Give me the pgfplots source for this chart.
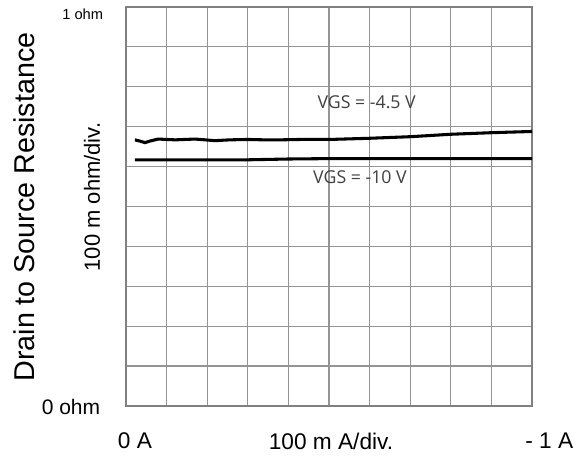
\documentclass[border=0pt]{standalone}
\usepackage{fontspec}
\setmainfont{Liberation Sans}
\newfontfamily\segoe{Open Sans}
\usepackage{pgfplots}
\pgfplotsset{compat=1.18}
\definecolor{gridgray}{HTML}{949494}
\definecolor{framegray}{HTML}{808080}
\definecolor{lbl}{HTML}{404040}

\begin{document}
\begin{tikzpicture}
\useasboundingbox (-94.5pt,-39.75pt) rectangle (342.75pt,304.5pt);
\begin{axis}[
  scale only axis, width=304.5pt, height=299.25pt,
  xmin=0, xmax=1, ymin=0, ymax=1,
  xtick={0,0.1,0.2,0.3,0.4,0.5,0.6,0.7,0.8,0.9,1},
  ytick={0,0.1,0.2,0.3,0.4,0.5,0.6,0.7,0.8,0.9,1},
  xticklabels={}, yticklabels={},
  major tick length=0pt,
  grid=major, grid style={draw=gridgray, line width=0.9pt},
  axis line style={draw=framegray, line width=2pt},
  clip=false]
% VGS = -4.5 V
\addplot[black, line width=2.3pt] coordinates {
(0.022,0.667)(0.034,0.664)(0.047,0.660)(0.059,0.664)(0.079,0.669)
(0.101,0.668)(0.121,0.667)(0.145,0.668)(0.170,0.669)(0.195,0.667)
(0.219,0.665)(0.256,0.667)(0.300,0.668)(0.342,0.667)(0.379,0.667)
(0.429,0.668)(0.502,0.668)(0.601,0.671)(0.702,0.675)(0.800,0.681)
(0.901,0.685)(1.000,0.688)};
% VGS = -10 V
\addplot[black, line width=2.3pt] coordinates {
(0.022,0.617)(0.150,0.617)(0.300,0.617)(0.400,0.619)(0.500,0.620)
(0.700,0.620)(1.000,0.620)};
\end{axis}
\node[font=\fontsize{21.5}{24}\selectfont, rotate=90] at (-76.5pt,149.25pt) {Drain to Source Resistance};
\node[font=\fontsize{16.5}{19}\selectfont, rotate=90] at (-25.5pt,156.75pt) {100 m ohm/div.};
\node[font=\fontsize{11}{13}\selectfont] at (-32.5pt,294pt) {1 ohm};
\node[font=\fontsize{15.75}{18}\selectfont] at (-41.25pt,-0.75pt) {0 ohm};
\node[font=\fontsize{17}{20}\selectfont] at (6.75pt,-26.25pt) {0 A};
\node[font=\fontsize{17}{20}\selectfont] at (153.75pt,-26.25pt) {100 m A/div.};
\node[font=\fontsize{17}{20}\selectfont] at (317.5pt,-26.25pt) {- 1 A};
\node[font=\segoe\fontsize{13.3}{15}\selectfont, text=lbl] at (180.5pt,228pt) {VGS = -4.5 V};
\node[font=\segoe\fontsize{13.3}{15}\selectfont, text=lbl] at (175.5pt,171.75pt) {VGS = -10 V};
\end{tikzpicture}
\end{document}
